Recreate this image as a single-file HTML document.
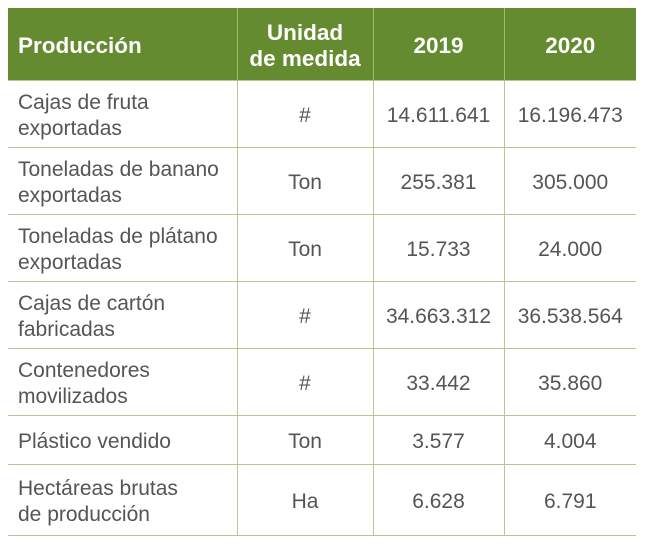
<!DOCTYPE html>
<html><head><meta charset="utf-8"><style>
body{margin:0;width:646px;height:545px;background:#fff;font-family:"Liberation Sans",sans-serif;position:relative;overflow:hidden}
table{position:absolute;left:8px;top:8px;width:628px;border-collapse:collapse;table-layout:fixed}
th{background:#658b30;color:#fff;font-size:22.5px;font-weight:bold;height:68px;padding:4px 0 0 0;border-left:1px solid #9fbb7a}
th:first-child{text-align:left;padding-left:10px;border-left:none}
td{font-size:21px;color:#555;border-top:1px solid #b3c79b;border-left:1px solid #b3c79b;text-align:center;padding:3px 0 0 0;line-height:26px}
td:first-child{text-align:left;padding-left:10px;border-left:none}
tr:last-child td{border-bottom:1px solid #b3c79b}
</style></head><body>
<table>
<colgroup><col style="width:229px"><col style="width:136px"><col style="width:131px"><col style="width:132px"></colgroup>
<tr><th>Producción</th><th style="line-height:26px">Unidad<br>de medida</th><th>2019</th><th>2020</th></tr>
<tr style="height:67px"><td style="height:63px">Cajas de fruta<br>exportadas</td><td>#</td><td>14.611.641</td><td>16.196.473</td></tr>
<tr><td style="height:63px">Toneladas de banano<br>exportadas</td><td>Ton</td><td>255.381</td><td>305.000</td></tr>
<tr><td style="height:63px">Toneladas de plátano<br>exportadas</td><td>Ton</td><td>15.733</td><td>24.000</td></tr>
<tr><td style="height:63px">Cajas de cartón<br>fabricadas</td><td>#</td><td>34.663.312</td><td>36.538.564</td></tr>
<tr><td style="height:63px">Contenedores<br>movilizados</td><td>#</td><td>33.442</td><td>35.860</td></tr>
<tr><td style="height:45px">Plástico vendido</td><td>Ton</td><td>3.577</td><td>4.004</td></tr>
<tr><td style="height:67px">Hectáreas brutas<br>de producción</td><td>Ha</td><td>6.628</td><td>6.791</td></tr>
</table>
</body></html>
